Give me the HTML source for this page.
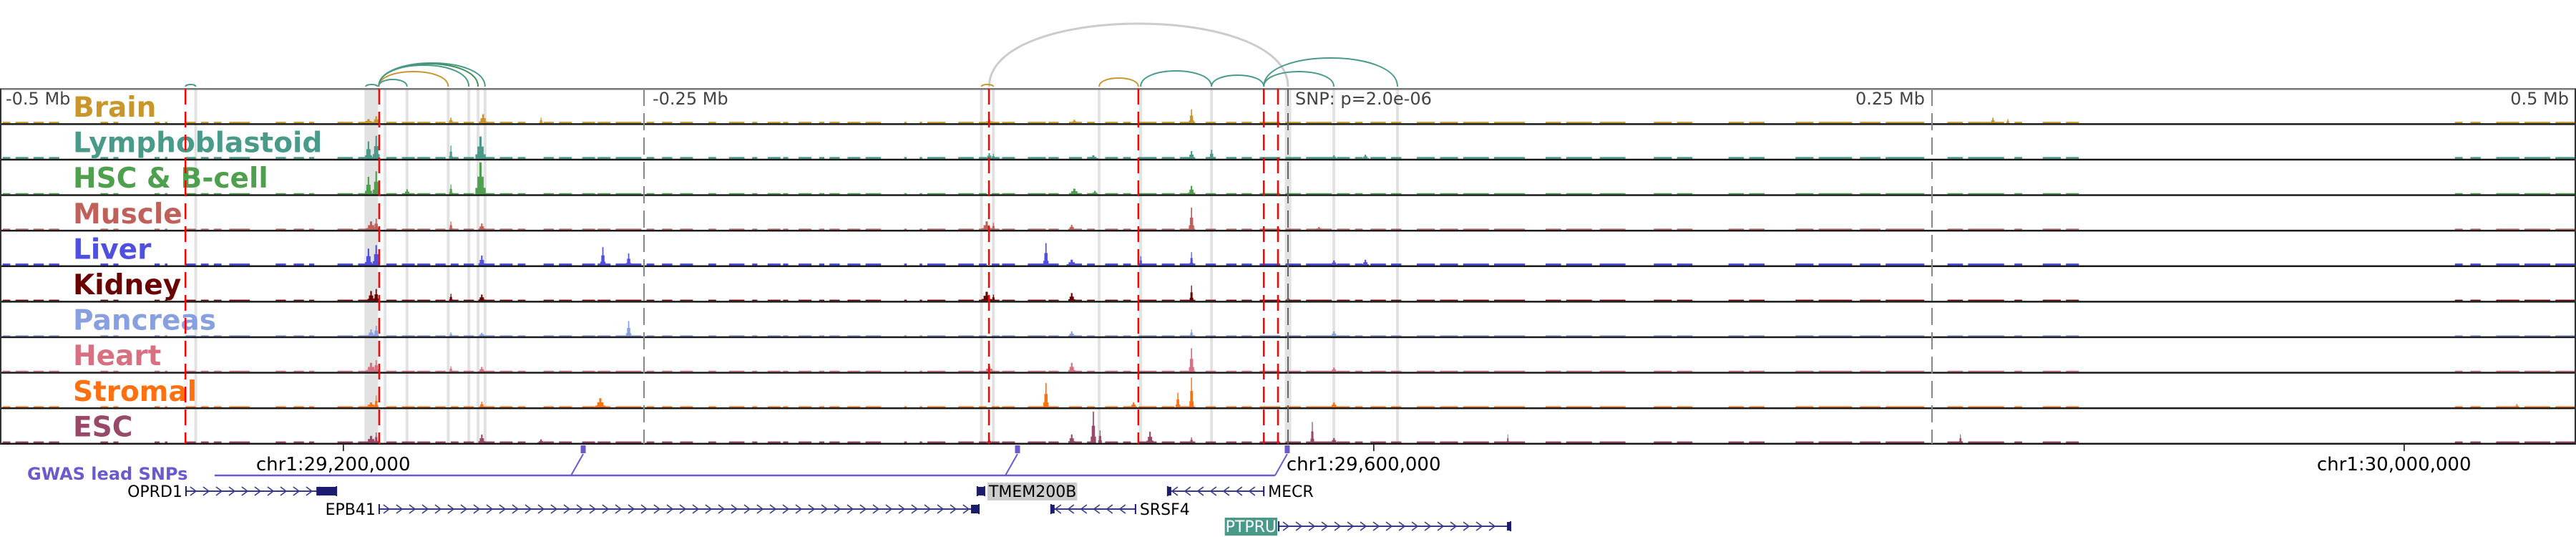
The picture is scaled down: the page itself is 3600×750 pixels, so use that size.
<!DOCTYPE html>
<html><head><meta charset="utf-8">
<style>
html,body{margin:0;padding:0;background:#fff;}
svg{display:block;font-family:"DejaVu Sans","Liberation Sans",sans-serif;}
</style></head>
<body>
<svg id="chart" width="3600" height="750" viewBox="0 0 3600 750" xmlns="http://www.w3.org/2000/svg">
<g id="bands"></g>
<g id="arcs"></g>
<g id="tracks"></g>
<g id="overlay"></g>
<g id="axislabels"></g>
<g id="genes"></g>
</svg>
<script>
// ---- data (genomic positions in kb relative to lead SNP) ----
const trackNames = ["Brain","Lymphoblastoid","HSC & B-cell","Muscle","Liver","Kidney","Pancreas","Heart","Stromal","ESC"];
const trackColors = ["#c8962a","#4a9a8a","#4ea04e","#c0605a","#5050e0","#6a0000","#88a0e0","#d87080","#ff7010","#984868"];
const bgLevel = [2,2.5,1.5,1.5,2.5,1.5,1.5,1.5,1.5,2];
const bgSegments = [[-499,-496],[-494,-489],[-487,-483],[-481,-477],[-461,-458],[-456,-454],[-440,-438],[-436,-435],[-428,-424],[-422,-419],[-417,-414],[-411,-403],[-393,-389],[-386,-382],[-380,-378],[-369,-363],[-361,-353],[-350,-346],[-344,-339],[-338,-333],[-331,-327],[-325,-322],[-320,-316],[-314,-308],[-306,-301],[-299,-296],[-289,-285],[-283,-278],[-274,-269],[-268,-263],[-261,-251],[-249,-246],[-243,-239],[-236,-231],[-225,-222],[-217,-211],[-208,-206],[-202,-197],[-196,-194],[-190,-185],[-182,-180],[-178,-174],[-171,-166],[-164,-158],[-149,-148],[-143,-142],[-140,-133],[-128,-122],[-120,-117],[-115,-112],[-111,-106],[-101,-94],[-93,-89],[-85,-80],[-78,-75],[-71,-66],[-64,-61],[-58,-51],[-49,-44],[-42,-36],[-32,-28],[-24,-20],[-18,-14],[-11,-3],[-1,5],[7,17],[19,24],[26,29],[32,38],[40,44],[50,57],[59,66],[68,78],[80,92],[100,106],[108,118],[121,131],[142,149],[151,157],[171,177],[179,185],[197,204],[206,219],[222,230],[232,247],[256,262],[264,278],[282,285],[293,300],[302,307],[453,456],[459,463],[469,478],[480,490],[492,500]];
const peaksBrain = [[-357,6,3],[-354,10,2],[-325,8,1.5],[-312.5,13,2.5],[-290,8,1],[-116,5,3],[-83,5,2],[-37.5,20,1.5],[273.6,8,1.5],[279.4,6,1]];
const peaksLymph = [[-357,25,2],[-354,33,2],[-325,19,1],[-313.5,32,3],[-116,8,2],[-114.4,7,1],[-75.6,5,3],[-37.5,11,2],[-29.7,13,1.5],[17.8,5,2],[30,6,2]];
const peaksHSC = [[-357,25,2],[-354,33,2],[-342,7,2],[-325,14,1],[-313.5,46,3],[-83,8,3],[-75,5,2],[-37.5,12,2]];
const peaksMuscle = [[-356,12,3],[-354,16,1.5],[-325,12,1],[-313,9,2],[-117,12,3],[-114.4,10,1],[-84,7,2],[-37.5,32,1.5],[12,4,2]];
const peaksLiver = [[-357,24,2],[-354,29,2],[-313,14,2],[-266,26,1.5],[-256,17,1.5],[-94,32,1.5],[-84,8,3],[-57.2,13,1],[-37.5,19,1],[17.8,7,2],[30,8,2]];
const peaksKidney = [[-356,14,2],[-354,17,1.5],[-325,10,1],[-313,9,2],[-117,13,3],[-114.4,9,1],[-84,11,2],[-37.5,22,1],[0,6,1]];
const peaksPancreas = [[-356,10,2],[-354,15,1.5],[-325,6,1],[-313,5,2],[-256,22,1.5],[-84,7,2],[-37.5,10,1],[17.8,7,2]];
const peaksHeart = [[-356,13,3],[-354,17,1.5],[-325,8,1],[-313,7,2],[-116,8,3],[-84,13,2],[-37.5,34,1.5],[17.8,6,2]];
const peaksStromal = [[-356,7,3],[-354,17,1],[-313,8,1.5],[-267,13,3],[-94,35,1.5],[-60,7,2],[-42.8,21,1.2],[-37.5,43,1.2],[17.8,7,2],[477,5,1]];
const peaksESC = [[-356,10,3],[-354,15,1],[-313,12,2],[-290,5,2],[-116,5,2],[-84,12,2],[-75.6,45,1.5],[-73,18,1],[-53.6,16,2],[-37.5,8,1],[9.4,30,1],[17.8,7,2],[85.3,12,0.6],[261,12,0.8]];
const peakSets = [peaksBrain,peaksLymph,peaksHSC,peaksMuscle,peaksLiver,peaksKidney,peaksPancreas,peaksHeart,peaksStromal,peaksESC];
const leadSnps = [-428,-352.8,-116.1,-58.1,-9.4,-3.9];
const bandPos = [-350.5,-342,-326,-318,-314.4,-311.7,-424,-119,-114.4,-73.3,-57.2,-29.7,0,17.8,42.5];
const arcStart = [-116,-119,-73.3,-57.2,-29.7,-9.4,-9.4,-358,-353,-353,-353,-353,-353,-428];
const arcEnd   = [0,-114.4,-58.1,-29.7,-9.4,17.8,42.5,-353.5,-342,-326,-318,-314.4,-311.7,-424];
const arcHeight= [88,3,12,22,16,21,40,3,10,21,30,32,33,3];
const arcColor = ["#cccccc","#c8962a","#c8962a","#4a9a8a","#4a9a8a","#4a9a8a","#4a9a8a","#4a9a8a","#4a9a8a","#c8962a","#4a9a8a","#3f8f5a","#4a9a8a","#4a9a8a"];
const axisTicks = [-500,-250,0,250,500];
const axisTickLabels = ["-0.5 Mb","-0.25 Mb","SNP: p=2.0e-06","0.25 Mb","0.5 Mb"];
const coordTicks = [-366.7,33.3,433.3];
const coordLabels = ["chr1:29,200,000","chr1:29,600,000","chr1:30,000,000"];
const gwasSnps = [-273.6,-105,-0.3];
const geneNames = ["OPRD1","EPB41","TMEM200B","SRSF4","MECR","PTPRU"];
const geneStart = [-427.8,-352.8,-120.6,-92,-46.7,-3.6];
const geneEnd = [-369.4,-120,-117.8,-59.2,-9.4,86.4];
const geneStrand = [1,1,1,-1,-1,1];
const geneRow = [0,1,0,1,0,2];

// ---- scales ----
const X = kb => (kb + 500) * 3.6;
const panelTop = 124, trackH = 49.6;
const Ysig = v => v * (trackH - 5) / 46;
const NS = "http://www.w3.org/2000/svg";
function mk(tag, attrs, parent){const e=document.createElementNS(NS,tag);for(const k in attrs)e.setAttribute(k,attrs[k]);parent.appendChild(e);return e;}
const gBands=document.getElementById('bands'),gArcs=document.getElementById('arcs'),gTracks=document.getElementById('tracks'),gOv=document.getElementById('overlay'),gAx=document.getElementById('axislabels'),gGenes=document.getElementById('genes');
const panelBottom = panelTop + trackH*10;

// highlight bands
bandPos.forEach(p=>{
  const w = (p===0)?9:4;
  const r = mk('rect',{x:X(p)-w/2,y:panelTop,width:w,height:panelBottom-panelTop,fill:'#e2e2e2'},gBands);
  
  
});
const wide = mk('rect',{x:X(-358.5),y:panelTop,width:X(-353.2)-X(-358.5),height:panelBottom-panelTop,fill:'#e2e2e2'},gBands);



// arcs
arcStart.forEach((s,i)=>{
  const x1=X(s),x2=X(arcEnd[i]),base=121,h=arcHeight[i];
  const cy = base - h*4/3;
  const p = mk('path',{d:`M${x1},${base} C${x1},${cy} ${x2},${cy} ${x2},${base}`,fill:'none',stroke:arcColor[i],'stroke-width':i===0?3:2},gArcs);
  
  
});

// tracks
trackNames.forEach((name,t)=>{
  const top = panelTop + t*trackH, base = top + trackH - 1.5;
  const g = mk('g',{},gTracks);
  
  
  const col = trackColors[t];
  let d='';
  bgSegments.forEach(([a,b])=>{const h=bgLevel[t];d+=`M${X(a)},${base}h${X(b)-X(a)}v${-h}h${-(X(b)-X(a))}z`;});
  const bg = mk('path',{d,fill:col},g);
  
  
  peakSets[t].forEach(([c,h,w])=>{
    const fr=[0.2,0.55,1,0.55,0.2], ww=w*1.3, bw=ww*3.6/5;
    let pd='';
    fr.forEach((f,k)=>{const hh=Ysig(h)*f;const x=X(c)-ww*3.6/2+k*bw;pd+=`M${x},${base}h${bw+0.3}v${-hh}h${-(bw+0.3)}z`;});
    const pk = mk('path',{d:pd,fill:col},g);
    
    
  });
  const lbl = mk('text',{x:102,y:top+39,'font-size':39,'font-weight':'bold',fill:col},g);
  lbl.textContent=name;
  
  
  const sep = mk('rect',{x:0,y:top+trackH-1.5,width:3600,height:2.5,fill:'#1a1a1a'},g);
  
  
});
const topLine = mk('rect',{x:0,y:panelTop-1,width:3600,height:2.5,fill:'#777'},gOv);


const leftLine = mk('rect',{x:0,y:panelTop,width:2,height:panelBottom-panelTop,fill:'#333'},gOv);


const rightLine = mk('rect',{x:3598,y:panelTop,width:2,height:panelBottom-panelTop,fill:'#333'},gOv);



// axis dashed lines + labels
axisTicks.forEach((v,i)=>{
  if(v>-500 && v<500){
    const l = mk('line',{x1:X(v),x2:X(v),y1:panelTop,y2:panelBottom,stroke:v===0?'#666':'#888','stroke-width':2,'stroke-dasharray':'24,10'},gOv);
    
    
  }
  let x=X(v), anchor='start';
  if(v===-500) x=8;
  else if(v<0) x=X(v)+12;
  else if(v===0) x=X(v)+10;
  else {x=X(v)-10;anchor='end';}
  const tx = mk('text',{x, y:146,'font-size':24,fill:'#444','text-anchor':anchor},gAx);
  tx.textContent = axisTickLabels[i];
  
  
});
// lead SNP red lines
leadSnps.forEach(s=>{
  const l = mk('line',{x1:X(s),x2:X(s),y1:panelTop,y2:panelBottom,stroke:'#ff0000','stroke-width':2.5,'stroke-dasharray':'22,10'},gOv);
  
  
});

// coordinate ticks
coordTicks.forEach((v,i)=>{
  const l = mk('line',{x1:X(v),x2:X(v),y1:panelBottom,y2:panelBottom+10,stroke:'#000','stroke-width':1.5},gGenes);
  
  
  const t = mk('text',{x:X(v)-122,y:657,'font-size':26,fill:'#000'},gGenes);
  t.textContent = coordLabels[i];
  
  
});

// GWAS
const gw = mk('text',{x:38,y:670,'font-size':24,'font-weight':'bold',fill:'#6a5acd'},gGenes);
gw.textContent='GWAS lead SNPs';


const lastX = X(gwasSnps[gwasSnps.length-1]);
const gl = mk('line',{x1:300,x2:lastX-17,y1:664,y2:664,stroke:'#6a5acd','stroke-width':2.5},gGenes);


gwasSnps.forEach(s=>{
  const x=X(s);
  const d = mk('line',{x1:x-17,y1:664,x2:x,y2:634,stroke:'#6a5acd','stroke-width':2},gGenes);
  
  
  const r = mk('rect',{x:x-3.5,y:622,width:7,height:11,fill:'#6a5acd'},gGenes);
  
  
});

// genes
const rowY=[686,711,735];
geneNames.forEach((n,i)=>{
  const g = mk('g',{},gGenes);
  
  
  const x1=X(geneStart[i]),x2=X(geneEnd[i]),y=rowY[geneRow[i]],col='#1c1c6e';
  mk('line',{x1,x2,y1:y,y2:y,stroke:'#3a3a8a','stroke-width':2},g);
  mk('line',{x1,x2:x1,y1:y-7,y2:y+7,stroke:col,'stroke-width':2},g);
  mk('line',{x1:x2,x2:x2,y1:y-7,y2:y+7,stroke:col,'stroke-width':2},g);
  let cd='';
  for(let x=x1+10;x<x2-8;x+=18){
    if(geneStrand[i]>0) cd+=`M${x-4},${y-6}L${x+4},${y}L${x-4},${y+6}`;
    else cd+=`M${x+4},${y-6}L${x-4},${y}L${x+4},${y+6}`;
  }
  mk('path',{d:cd,fill:'none',stroke:'#3a3a8a','stroke-width':1.6},g);
  let ex = geneStrand[i]>0 ? [x2-Math.min(28,(x2-x1)),x2] : [x1,x1+5];
  if(n==='EPB41') ex=[x2-11,x2];
  if(n==='PTPRU') ex=[x2-5,x2];
  mk('rect',{x:ex[0],y:y-6,width:ex[1]-ex[0],height:12,fill:col},g);
  let lx,anchor,bgc=null,fc='#000';
  if(n==='OPRD1'||n==='EPB41'){lx=x1-5;anchor='end';}
  else if(n==='PTPRU'){lx=x1-3;anchor='end';bgc='#4a9a8a';fc='#fff';}
  else {lx=x2+6;anchor='start';if(n==='TMEM200B')bgc='#cccccc';}
  const t = mk('text',{x:lx,y:y+8,'font-size':22,fill:fc,'text-anchor':anchor},g);
  t.textContent=n;
  if(bgc){
    const bb=t.getBBox();
    const r=document.createElementNS(NS,'rect');
    r.setAttribute('x',bb.x-1);r.setAttribute('y',y-12);r.setAttribute('width',bb.width+2);r.setAttribute('height',25);r.setAttribute('fill',bgc);
    g.insertBefore(r,t);
  }
});
</script>
</body></html>
